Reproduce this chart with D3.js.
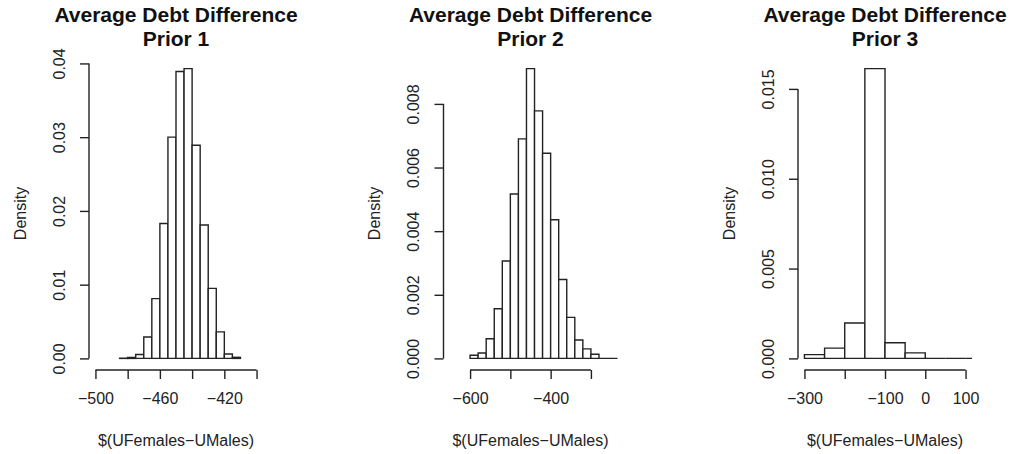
<!DOCTYPE html>
<meta charset="utf-8">
<script src="https://d3js.org/d3.v7.min.js"></script>
<style>
	body{
		margin:0;
		background:#fff;
		font-family: 'Liberation Sans', Arial, sans-serif;
	}
</style>
<div id="charts"></div>
<script>
	// histogram breaks (bin edges) and densities
	var breaks1 = [-485,-480,-475,-470,-465,-460,-455,-450,-445,-440,-435,-430,-425,-420,-415,-410]
	var density1 = [0.00003,0.00013,0.00054,0.0029,0.0081,0.0183,0.0300,0.0389,0.0393,0.0289,0.0181,0.0095,0.0036,0.0006,0.00015]

	var breaks2 = [-600,-580,-560,-540,-520,-500,-480,-460,-440,-420,-400,-380,-360,-340,-320,-300,-280,-260,-240,-220]
	var density2 = [0.0001,0.00017,0.00062,0.00156,0.00306,0.00517,0.0069,0.00911,0.00778,0.00645,0.00436,0.00248,0.00129,0.00058,0.0003,0.00013,0,0,0]

	var breaks3 = [-300,-250,-200,-150,-100,-50,0,50,100,150]
	var density3 = [0.00021,0.00057,0.00197,0.01613,0.00087,0.00031,0,0,0]

	var titles = ["Prior 1","Prior 2","Prior 3"]
	var xlims = [[-500,-400],[-650,-250],[-300,100]]
	var xTicks1 = [-500,-480,-460,-440,-420,-400]
	var xLabels1 = ["-500","","-460","","-420",""]
	var xTicks2 = [-600,-500,-400,-300]
	var xLabels2 = ["-600","","-400",""]
	var xTicks3 = [-300,-200,-100,0,100]
	var xLabels3 = ["-300","","-100","0","100"]
	var yTicks1 = [0,0.01,0.02,0.03,0.04]
	var yLabels1 = ["0.00","0.01","0.02","0.03","0.04"]
	var yTicks2 = [0,0.002,0.004,0.006,0.008]
	var yLabels2 = ["0.000","0.002","0.004","0.006","0.008"]
	var yTicks3 = [0,0.005,0.010,0.015]
	var yLabels3 = ["0.000","0.005","0.010","0.015"]

	var W = 1011, H = 454
	var svg = d3.select("#charts").append("svg").attr("width",W).attr("height",H)

	var plotTop = 57, plotBottom = 370, plotW = 174
	var lefts = [89, 443.5, 798]

	drawPanel(0, breaks1, density1, xTicks1, xLabels1, yTicks1, yLabels1)
	drawPanel(1, breaks2, density2, xTicks2, xLabels2, yTicks2, yLabels2)
	drawPanel(2, breaks3, density3, xTicks3, xLabels3, yTicks3, yLabels3)

function minus(s){
	return s.replace("-","\u2212")
}

function drawPanel(i, breaks, dens, xt, xl, yt, yl){
	var left = lefts[i]
	var right = left + plotW
	var cx = (left+right)/2
	var g = svg.append("g")

	// R style 4% axis extension
	var lim = xlims[i]
	var ext = (lim[1]-lim[0])*0.04
	var x = d3.scaleLinear().domain([lim[0]-ext, lim[1]+ext]).range([left, right])
	var ymax = d3.max(dens)
	var y = d3.scaleLinear().domain([-0.04*ymax, 1.04*ymax]).range([plotBottom, plotTop])

	g.append("clipPath").attr("id","clip"+i)
		.append("rect").attr("x",left).attr("y",plotTop).attr("width",plotW).attr("height",plotBottom-plotTop)

	// bars as closed paths so empty bins still show as a line
	var bins = dens.map(function(d,k){ return {x0:breaks[k], x1:breaks[k+1], d:d} })
	g.append("g").attr("clip-path","url(#clip"+i+")")
		.selectAll("path").data(bins).join("path")
		.attr("d",function(d){
			var p = d3.path()
			p.moveTo(x(d.x0), y(0))
			p.lineTo(x(d.x0), y(d.d))
			p.lineTo(x(d.x1), y(d.d))
			p.lineTo(x(d.x1), y(0))
			p.closePath()
			return p.toString()
		})
		.attr("fill","#fff")
		.attr("stroke","#222")
		.attr("stroke-width",1.4)

	// x axis
	var xa = g.append("g").attr("transform","translate(0,"+plotBottom+")")
		.call(d3.axisBottom(x).tickValues(xt).tickSize(9).tickSizeOuter(0).tickFormat(function(d,k){ return minus(xl[k]) }))
	xa.select(".domain").attr("d","M"+x(xt[0])+",0H"+x(xt[xt.length-1]))
	xa.selectAll("path,line").attr("stroke","#222").attr("stroke-width",1.4)
	xa.selectAll("text").attr("y",23).attr("font-size","16px").attr("fill","#222")
		.attr("font-family","'Liberation Sans', Arial, sans-serif")

	// y axis, labels parallel to axis as in R
	var ya = g.append("g").attr("transform","translate("+left+",0)")
		.call(d3.axisLeft(y).tickValues(yt).tickSize(9).tickSizeOuter(0).tickFormat(function(d,k){ return yl[k] }))
	ya.select(".domain").attr("d","M0,"+y(yt[0])+"V"+y(yt[yt.length-1]))
	ya.selectAll("path,line").attr("stroke","#222").attr("stroke-width",1.4)
	ya.selectAll("text")
		.attr("x",0).attr("dy",null).attr("y",0)
		.attr("text-anchor","middle")
		.attr("dominant-baseline","central")
		.attr("transform","translate(-30,0) rotate(-90)")
		.attr("font-size","16px").attr("fill","#222")
		.attr("font-family","'Liberation Sans', Arial, sans-serif")

	// titles and labels
	g.append("text").text("Average Debt Difference").attr("x",cx).attr("y",22)
		.attr("text-anchor","middle").attr("font-weight","bold").attr("font-size","21px").attr("fill","#111")
	g.append("text").text(titles[i]).attr("x",cx).attr("y",46)
		.attr("text-anchor","middle").attr("font-weight","bold").attr("font-size","21px").attr("fill","#111")
	g.append("text").text("$(UFemales\u2212UMales)").attr("x",cx).attr("y",446)
		.attr("text-anchor","middle").attr("font-size","16px").attr("fill","#222")
	g.append("text").text("Density")
		.attr("transform","translate("+(left-69)+","+((plotTop+plotBottom)/2)+") rotate(-90)")
		.attr("text-anchor","middle").attr("dominant-baseline","central")
		.attr("font-size","16px").attr("fill","#222")
}
</script>
